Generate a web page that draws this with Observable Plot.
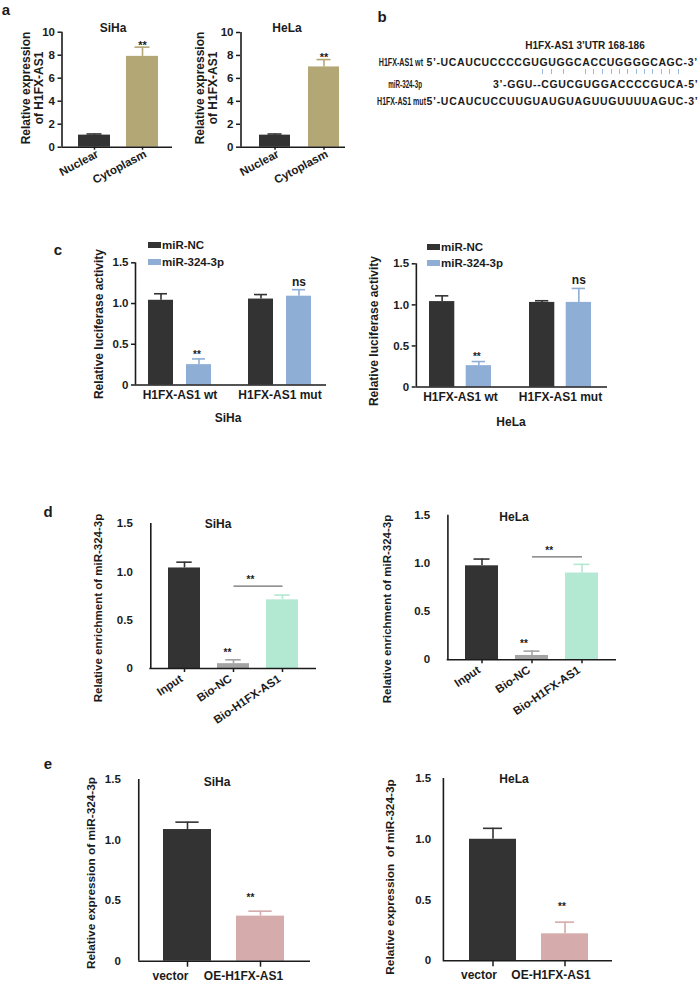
<!DOCTYPE html>
<html><head><meta charset="utf-8">
<script src="https://cdn.jsdelivr.net/npm/d3@7"></script>
<script src="https://cdn.jsdelivr.net/npm/@observablehq/plot@0.6"></script>
<style>
body{margin:0;background:#fff}
#fig{position:relative;width:699px;height:993px;overflow:hidden;background:#fff;font-family:"Liberation Sans",Arial,sans-serif;font-weight:bold;color:#1b1b1b}
.t{position:absolute;white-space:pre;line-height:1.05;text-align:center}
.chart{position:absolute}
</style></head><body><div id="fig"></div>
<script>
// ---------------- data ----------------
const aCats = ["Nuclear", "Cytoplasm"];
const aSiHa = [1.05, 7.9], aSiHaErr = [0.10, 0.80];
const aHeLa = [1.05, 7.0], aHeLaErr = [0.10, 0.64];
const aColors = ["#333333", "#b3a775"];
const aMarks = [null, "**"];
const aTicks = [0, 2, 4, 6, 8, 10];

const bHeader = "H1FX-AS1 3\u2019UTR 168-186";
const bLabels = ["H1FX-AS1 wt", "miR-324-3p", "H1FX-AS1 mut"];
const bSeqs = ["5\u2019-UCAUCUCCCCGUGUGGCACCUGGGGCAGC-3\u2019", "3\u2019-GGU--CGUCGUGGACCCCGUCA-5\u2019", "5\u2019-UCAUCUCCUUGUAUGUAGUUGUUUUAGUC-3\u2019"];

const cGroups = ["H1FX-AS1 wt", "H1FX-AS1 mut"];
const cSeries = ["miR-NC", "miR-324-3p"];
const cColors = ["#333333", "#8eaed6"];
const cSiHaNC = [1.04, 1.055], cSiHaNCErr = [0.08, 0.055];
const cSiHa324 = [0.25, 1.09], cSiHa324Err = [0.07, 0.08];
const cHeLaNC = [1.04, 1.03], cHeLaNCErr = [0.07, 0.02];
const cHeLa324 = [0.26, 1.03], cHeLa324Err = [0.05, 0.17];
const c324Marks = ["**", "ns"];
const unitTicks = [0, 0.5, 1.0, 1.5];

const dCats = ["Input", "Bio-NC", "Bio-H1FX-AS1"];
const dColors = ["#333333", "#a3a3a3", "#b3e8d3"];
const dSiHa = [1.04, 0.05, 0.71], dSiHaErr = [0.06, 0.04, 0.05];
const dHeLa = [0.975, 0.045, 0.90], dHeLaErr = [0.07, 0.045, 0.09];
const dMarks = [null, "**", null];
const dSigSiHa = 0.853, dSigHeLa = 1.068;

const eCats = ["vector", "OE-H1FX-AS1"];
const eColors = ["#333333", "#d5abab"];
const eSiHa = [1.087, 0.372], eSiHaErr = [0.061, 0.041];
const eHeLa = [1.0, 0.222], eHeLaErr = [0.09, 0.096];
const eMarks = [null, "**"];

// ---------------- helpers ----------------
const fig = document.getElementById("fig");
const INK = "#1b1b1b";
const fmtUnit = d => d === 0 ? "0" : d.toFixed(1);

function addText(str, x, y, o = {}) {
  const el = document.createElement("div");
  el.className = "t";
  el.textContent = str;
  el.style.left = x + "px";
  el.style.top = y + "px";
  el.style.fontSize = (o.size || 12) + "px";
  if (o.color) el.style.color = o.color;
  const anchor = o.anchor || "middle";
  const tx = anchor === "start" ? "0" : anchor === "end" ? "-100%" : "-50%";
  el.style.transformOrigin = anchor === "start" ? "0 50%" : anchor === "end" ? "100% 50%" : "50% 50%";
  el._base = `translate(${tx},-50%)` + (o.rotate ? ` rotate(${o.rotate}deg)` : "");
  el.style.transform = el._base;
  fig.appendChild(el);
  if (o.fit) {
    const w = el.offsetWidth;
    if (w < o.fit) {
      el.style.letterSpacing = ((o.fit - w) / str.length) + "px";
    } else {
      el.style.transform = el._base + ` scaleX(${o.fit / w})`;
    }
  }
  return el;
}

function barChart(c) {
  const [L, T, W, H] = c.box;
  const n = c.cats.length;
  const step = n > 1 ? (c.bandRight - c.bandLeft - c.bw) / (n - 1) : c.bw;
  const pi = 1 - c.bw / step;
  const marks = [];
  for (const s of c.series) {
    const rows = c.cats.map((cat, i) => ({cat, v: s.vals[i], e: s.errs[i],
      fill: s.colors ? s.colors[i] : s.color, mark: s.marks ? s.marks[i] : null}));
    const il = s.insetLeft || 0, ir = s.insetRight || 0;
    const center = il + (c.bw - il - ir) / 2;
    const dx = center - c.bw / 2;
    marks.push(Plot.barY(rows, {x: "cat", y: "v", fill: "fill", insetLeft: il, insetRight: ir}));
    marks.push(Plot.ruleX(rows, {x: "cat", y1: "v", y2: d => d.v + d.e, stroke: "fill", strokeWidth: 1.6, dx}));
    marks.push(Plot.tickY(rows, {x: "cat", y: d => d.v + d.e, stroke: "fill", strokeWidth: 1.6,
      insetLeft: center - c.capW / 2, insetRight: c.bw - center - c.capW / 2}));
    const stars = rows.filter(d => d.mark === "**"), ns = rows.filter(d => d.mark === "ns");
    if (stars.length) marks.push(Plot.text(stars, {x: "cat", y: d => d.v + d.e, text: "mark",
      dx: dx + (c.starDx || 0), dy: c.starDy, fontSize: c.starFont, fill: INK}));
    if (ns.length) marks.push(Plot.text(ns, {x: "cat", y: d => d.v + d.e, text: "mark",
      dx, dy: c.nsDy, fontSize: 12, fill: INK}));
  }
  if (c.sig) {
    marks.push(Plot.link([c.sig], {x1: "from", x2: "to", y1: "y", y2: "y", stroke: "#6e6e6e", strokeWidth: 1.2}));
    marks.push(Plot.text([c.sig], {x: "from", y: "y", text: "mark", dx: step / 2 + c.sigDx, dy: c.sigDy,
      fontSize: c.starFont, fill: INK}));
  }
  marks.push(Plot.axisY(c.yTicks, {tickFormat: c.fmt, tickSize: c.yt.size, tickPadding: c.yt.pad,
    fontSize: c.yt.font, strokeWidth: 1.5, label: null}));
  if (c.xt.size) marks.push(Plot.axisX({tickSize: c.xt.size, tickFormat: () => "", strokeWidth: 1.5, label: null}));
  marks.push(Plot.axisX({tickSize: 0, tickPadding: c.xt.size + c.xt.pad, tickRotate: c.xt.rotate,
    fontSize: c.xt.font, dx: c.xt.dx || 0, label: null}));
  marks.push(Plot.ruleY([0], {stroke: INK, strokeWidth: 1.6}));
  marks.push(Plot.ruleX([c.cats[0]], {dx: c.axisX - (c.bandLeft + c.bw / 2), stroke: INK, strokeWidth: 1.6}));

  const svg = Plot.plot({
    width: W, height: H,
    marginLeft: c.axisX - L, marginRight: L + W - c.axisRight,
    marginTop: c.topY - T, marginBottom: T + H - c.baseY,
    style: {fontFamily: '"Liberation Sans", Arial, sans-serif', fontWeight: "bold", background: "transparent",
      color: INK, overflow: "visible"},
    x: {type: "band", domain: c.cats, range: [c.bandLeft - L, c.bandRight - L], paddingInner: pi, paddingOuter: 0},
    y: {type: "linear", domain: [0, c.yMax], range: [c.baseY - T, c.topY - T]},
    color: {type: "identity"},
    marks
  });
  const wrap = document.createElement("div");
  wrap.className = "chart";
  wrap.style.left = L + "px";
  wrap.style.top = T + "px";
  wrap.appendChild(svg);
  fig.appendChild(wrap);
}

// ---------------- panel a ----------------
const aCommon = {yMax: 10, yTicks: aTicks, fmt: d => String(d), cats: aCats, bw: 32, capW: 15,
  yt: {size: 4, pad: 3, font: 11.5}, xt: {size: 3, pad: 3, rotate: -28, font: 11.5, dx: 3},
  starDy: -2, starFont: 11};
barChart({...aCommon, box: [0, 20, 178, 170], axisX: 61.5, axisRight: 172, baseY: 146.7, topY: 31.7,
  bandLeft: 78, bandRight: 158, series: [{vals: aSiHa, errs: aSiHaErr, colors: aColors, marks: aMarks}]});
barChart({...aCommon, box: [178, 20, 172, 170], axisX: 240, axisRight: 345, baseY: 146.7, topY: 32,
  bandLeft: 258, bandRight: 340, series: [{vals: aHeLa, errs: aHeLaErr, colors: aColors, marks: aMarks}]});

// ---------------- panel c ----------------
const cCommon = {yMax: 1.5, yTicks: unitTicks, fmt: fmtUnit, cats: cGroups, capW: 13,
  yt: {size: 4, pad: 3, font: 11.5}, xt: {size: 0, pad: 5, rotate: 0, font: 12},
  starDy: -4.5, starFont: 10, nsDy: -8, starDx: -2};
barChart({...cCommon, box: [60, 240, 275, 175], axisX: 135, axisRight: 326, baseY: 384.5, topY: 262.3,
  bandLeft: 148, bandRight: 311, bw: 63,
  series: [{vals: cSiHaNC, errs: cSiHaNCErr, color: cColors[0], insetRight: 38},
           {vals: cSiHa324, errs: cSiHa324Err, color: cColors[1], insetLeft: 38, marks: c324Marks}]});
barChart({...cCommon, box: [360, 240, 260, 175], axisX: 415.7, axisRight: 607, baseY: 386.5, topY: 263.3,
  bandLeft: 429, bandRight: 590.7, bw: 61.7,
  series: [{vals: cHeLaNC, errs: cHeLaNCErr, color: cColors[0], insetRight: 36.7},
           {vals: cHeLa324, errs: cHeLa324Err, color: cColors[1], insetLeft: 36.7, marks: c324Marks}]});

// ---------------- panel d ----------------
const dCommon = {yMax: 1.5, yTicks: unitTicks, fmt: fmtUnit, cats: dCats, capW: 16,
  yt: {size: 0, pad: 17, font: 11.5}, xt: {size: 4, pad: 5, rotate: -34, font: 11.5, dx: -3},
  starFont: 10, sigDx: -8};
barChart({...dCommon, box: [100, 500, 230, 215], axisX: 149.3, axisRight: 316, baseY: 668, topY: 523,
  bandLeft: 166.7, bandRight: 299, bw: 32.6, starDy: -7.5, starDx: -6, sigDy: -6.5,
  sig: {from: dCats[1], to: dCats[2], y: dSigSiHa, mark: "**"},
  series: [{vals: dSiHa, errs: dSiHaErr, colors: dColors, marks: dMarks}]});
barChart({...dCommon, box: [400, 495, 230, 220], axisX: 446.7, axisRight: 616, baseY: 659.3, topY: 514.7,
  bandLeft: 464.3, bandRight: 598.3, bw: 33, starDy: -7, starDx: -8, sigDy: -6,
  sig: {from: dCats[1], to: dCats[2], y: dSigHeLa, mark: "**"},
  series: [{vals: dHeLa, errs: dHeLaErr, colors: dColors, marks: dMarks}]});

// ---------------- panel e ----------------
const eCommon = {yMax: 1.5, yTicks: unitTicks, fmt: fmtUnit, cats: eCats, starFont: 10};
barChart({...eCommon, box: [100, 760, 220, 230], axisX: 138.3, axisRight: 310, baseY: 960.7, topY: 779,
  bandLeft: 162.7, bandRight: 285, bw: 48.7, capW: 24, starDy: -13, starDx: -10,
  yt: {size: 0, pad: 18, font: 11.5}, xt: {size: 6, pad: 4, rotate: 0, font: 12, dx: -17},
  series: [{vals: eSiHa, errs: eSiHaErr, colors: eColors, marks: eMarks}]});
barChart({...eCommon, box: [400, 760, 220, 230], axisX: 442.7, axisRight: 612, baseY: 960.3, topY: 778,
  bandLeft: 468.3, bandRight: 589.3, bw: 48, capW: 20, starDy: -15, starDx: -3,
  yt: {size: 0, pad: 12, font: 11.5}, xt: {size: 6, pad: 4, rotate: 0, font: 12, dx: -14},
  series: [{vals: eHeLa, errs: eHeLaErr, colors: eColors, marks: eMarks}]});

// ---------------- text: panel letters, titles, axis labels ----------------
[["a", 6, 10], ["b", 382, 17], ["c", 58, 250], ["d", 48, 512], ["e", 48, 764]]
  .forEach(([s, x, y]) => addText(s, x, y, {size: 15}));

addText("SiHa", 113, 28, {size: 12});
addText("HeLa", 287, 28, {size: 12});
addText("Relative expression\nof H1FX-AS1", 33, 88, {size: 12, rotate: -90});
addText("Relative expression\nof H1FX-AS1", 206.5, 88, {size: 12, rotate: -90});

addText("SiHa", 228, 418, {size: 12});
addText("HeLa", 511, 422, {size: 12});
addText("Relative luciferase activity", 98.5, 324, {size: 12, rotate: -90});
addText("Relative luciferase activity", 374, 331, {size: 12, rotate: -90});
// legends for c
[[148, 245], [427, 246.7]].forEach(([x, y]) => {
  cSeries.forEach((name, i) => {
    const sw = document.createElement("div");
    sw.style.cssText = `position:absolute;left:${x}px;top:${y + i * 16.5 - 3}px;width:13px;height:6px;background:${cColors[i]}`;
    fig.appendChild(sw);
    addText(name, x + 14, y + i * 16.5, {size: 11.5, anchor: "start"});
  });
});

addText("SiHa", 218, 524, {size: 12});
addText("HeLa", 514, 517, {size: 12});
addText("Relative enrichment of miR-324-3p", 98, 608, {size: 11.5, rotate: -90});
addText("Relative enrichment of miR-324-3p", 387, 609, {size: 11.5, rotate: -90});

addText("SiHa", 217, 782, {size: 12});
addText("HeLa", 514, 779, {size: 12});
addText("Relative expression of miR-324-3p", 91, 873, {size: 11.8, rotate: -90});
addText("Relative expression  of miR-324-3p", 390, 877, {size: 11.8, rotate: -90});

// ---------------- panel b: sequence alignment ----------------
addText(bHeader, 584.5, 46, {size: 10.5, fit: 119});
const bRowsY = [63, 85, 102];
const bLabelEnd = [423, 422, 426], bLabelW = [44, 34, 49];
const bSeqStart = [426.5, 493, 426.5], bSeqEnd = 698;
bLabels.forEach((s, i) => addText(s, bLabelEnd[i], bRowsY[i], {size: 10.5, anchor: "end", fit: bLabelW[i]}));
bSeqs.forEach((s, i) => addText(s, bSeqStart[i], bRowsY[i], {size: 10.5, anchor: "start", fit: bSeqEnd - bSeqStart[i]}));
const pairX = [541.7, 550.7, 562.7, 585, 593.3, 602.3, 610.7, 619.3, 627.3, 636, 644, 652.3, 660.7, 669.3, 678.3];
pairX.forEach(x => {
  const b = document.createElement("div");
  b.style.cssText = `position:absolute;left:${x}px;top:68.5px;width:1px;height:5.5px;background:#9bb9de`;
  fig.appendChild(b);
});
</script>
</body></html>
